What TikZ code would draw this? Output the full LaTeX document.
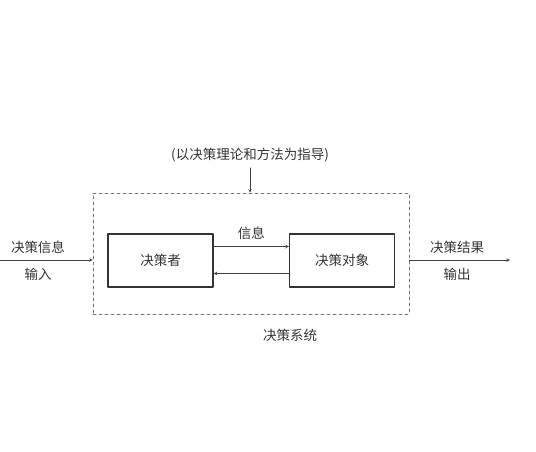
\documentclass[tikz,border=0pt]{standalone}
\usepackage{fontspec}
\setmainfont{Noto Sans CJK SC}
\begin{document}
\begin{tikzpicture}[x=1pt, y=-1pt, font=\fontsize{13.5}{16}\selectfont, line join=round, line cap=round, >=stealth,
	every node/.style={text=black!80},
	unit/.style={draw=black!80, line width=1.3pt, minimum width=105pt, minimum height=53pt, inner sep=0pt},
	link/.style={->, draw=black!75, line width=0.6pt}]
				\useasboundingbox (0,0) rectangle (536,451);
				\node[draw=black!55, dashed, line width=0.6pt, minimum width=316pt, minimum height=121pt, inner sep=0pt] (sys) at (251,253.5) {};
				\node[unit] (maker) at (160.5,260.5) {决策者};
				\node[unit] (object) at (342,260.5) {决策对象};
				\node (guidetext) at (250,155) {(以决策理论和方法为指导)};
				\node (systext) at (290,335) {决策系统};
				\node (intext) at (38,247) {决策信息};
				\node (inlabel) at (38,274) {输入};
				\node (outtext) at (457,247) {决策结果};
				\node (outlabel) at (457,274) {输出};
				\coordinate (guide) at (250,168);
				\coordinate (in) at (0,260);
				\coordinate (out) at (510,260);
				\draw[link] (guide)--(guide |- sys.north);
				\draw[link] (in)--(in -| sys.west);
				\draw[link] (in -| sys.east)--(out);
				\draw[link] ([yshift=14pt]maker.east)--([yshift=14pt]object.west) node[midway, above=3pt]{信息};
				\draw[link] ([yshift=-13pt]object.west)--([yshift=-13pt]maker.east);
			\end{tikzpicture}
\end{document}
